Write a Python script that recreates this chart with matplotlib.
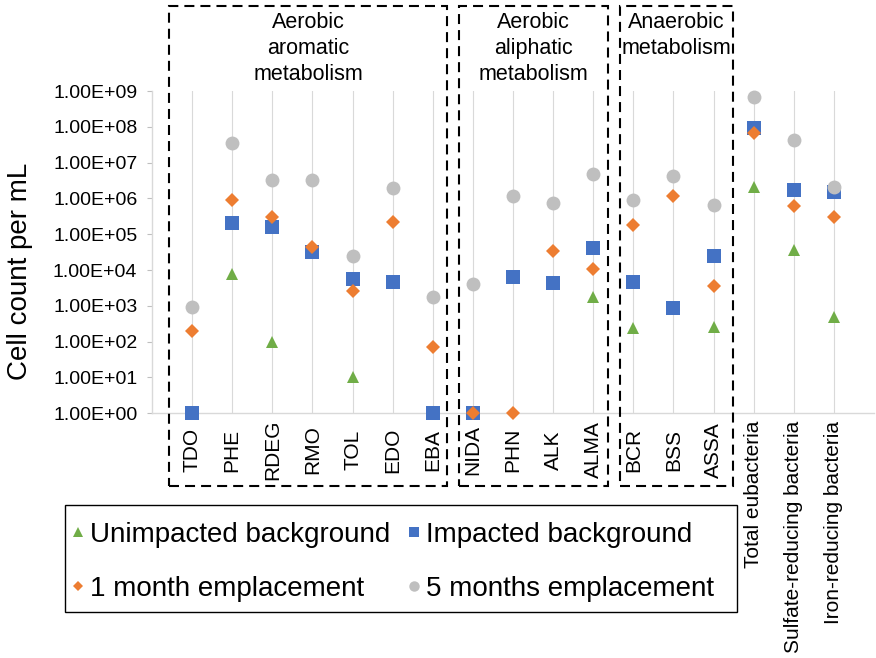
import numpy as np
import matplotlib
matplotlib.use("Agg")
import matplotlib.pyplot as plt
from matplotlib.patches import Rectangle
from matplotlib.ticker import FixedLocator, FuncFormatter, NullLocator
from matplotlib.transforms import blended_transform_factory

plt.rcParams["font.family"] = ["Liberation Sans", "DejaVu Sans"]

nan = np.nan

categories = ["TDO", "PHE", "RDEG", "RMO", "TOL", "EDO", "EBA",
              "NIDA", "PHN", "ALK", "ALMA",
              "BCR", "BSS", "ASSA",
              "Total eubacteria", "Sulfate-reducing bacteria", "Iron-reducing bacteria"]

unimpacted = [nan, 8.0e3, 95, nan, 10, nan, nan,
              nan, nan, nan, 1.8e3,
              240, nan, 250,
              2.1e6, 3.6e4, 480]
impacted = [1, 2.0e5, 1.6e5, 3.1e4, 5.6e3, 4.6e3, 1,
            1, 6.6e3, 4.3e3, 4.1e4,
            4.7e3, 860, 2.5e4,
            9.5e7, 1.7e6, 1.55e6]
one_month = [200, 9.0e5, 3.1e5, 4.5e4, 2.6e3, 2.2e5, 73,
             1, 1, 3.5e4, 1.1e4,
             1.8e5, 1.2e6, 3.7e3,
             6.6e7, 6.2e5, 3.1e5]
five_months = [950, 3.6e7, 3.3e6, 3.3e6, 2.5e4, 2.0e6, 1.8e3,
               4.1e3, 1.2e6, 7.6e5, 4.8e6,
               9.1e5, 4.1e6, 6.6e5,
               6.7e8, 4.3e7, 2.1e6]

series_labels = ["Unimpacted background", "Impacted background",
                 "1 month emplacement", "5 months emplacement"]

group_titles = ["Aerobic\naromatic\nmetabolism",
                "Aerobic\naliphatic\nmetabolism",
                "Anaerobic\nmetabolism"]

y_ticks = [1e0, 1e1, 1e2, 1e3, 1e4, 1e5, 1e6, 1e7, 1e8, 1e9]

W, H = 876, 658
fig = plt.figure(figsize=(W / 100, H / 100), dpi=100)


def fx(px):
    return px / W


def fy(py):
    return 1 - py / H


ax = fig.add_axes([fx(152), fy(413.3), fx(874) - fx(152), fy(91) - fy(413.3)])

x = np.arange(1, len(categories) + 1)

styles = [
    dict(marker="^", color="#70AD47", ms=9),
    dict(marker="s", color="#4472C4", ms=9.4),
    dict(marker="D", color="#ED7D31", ms=7.0),
    dict(marker="o", color="#BFBFBF", ms=10),
]
handles = []
for vals, st, lab in zip([unimpacted, impacted, one_month, five_months], styles, series_labels):
    h, = ax.plot(x, vals, linestyle="none", marker=st["marker"], color=st["color"],
                 markersize=st["ms"], markeredgewidth=0, clip_on=False, zorder=3,
                 label=lab)
    handles.append(h)

ax.set_yscale("log")
ax.set_ylim(1, 1e9)
ax.set_xlim(0, len(categories) + 1)
ax.yaxis.set_major_locator(FixedLocator(y_ticks))
ax.yaxis.set_minor_locator(NullLocator())
ax.yaxis.set_major_formatter(FuncFormatter(lambda v, p: f"{v:.2E}"))
ax.set_xticks(x)
ax.set_xticklabels([])
ax.tick_params(axis="x", length=0)
ax.tick_params(axis="y", length=3.6, width=0.8, color="#BFBFBF", pad=7,
               labelsize=14, labelcolor="black")
ax.grid(axis="x", color="#D9D9D9", linewidth=0.8, zorder=0)
ax.set_axisbelow(True)
for side in ["top", "right"]:
    ax.spines[side].set_visible(False)
for side in ["left", "bottom"]:
    ax.spines[side].set_color("#D9D9D9")
    ax.spines[side].set_linewidth(1.0)

# category labels below the axis
lab_tr = blended_transform_factory(ax.transData, fig.transFigure)
for xi, name in zip(x, categories):
    if len(name) > 5:
        ax.text(xi, fy(421), name, rotation=90, ha="center", va="top",
                fontsize=15, transform=lab_tr, clip_on=False)
    else:
        ax.text(xi, fy(450), name, rotation=90, ha="center", va="center",
                fontsize=15, transform=lab_tr, clip_on=False)

fig.text(fx(20), fy(271), "Cell count per mL", rotation=90, ha="center",
         va="center", fontsize=20)

# dashed group boxes with titles
boxes = [(169, 447), (459, 608), (620, 733)]
for (x0, x1), title in zip(boxes, group_titles):
    fig.patches.append(Rectangle((fx(x0), fy(486)), fx(x1) - fx(x0), fy(6) - fy(486),
                                 transform=fig.transFigure, fill=False,
                                 edgecolor="black", linewidth=1.5,
                                 linestyle=(0, (4.8, 2.9))))
    fig.text(fx((x0 + x1) / 2), fy(12), title, ha="center", va="top",
             fontsize=15.5, linespacing=1.32)

# legend with a plain rectangular frame
fig.patches.append(Rectangle((fx(65), fy(612)), fx(737) - fx(65), fy(505) - fy(612),
                             transform=fig.transFigure, fill=False,
                             edgecolor="black", linewidth=1.0))
order = [0, 2, 1, 3]
leg = fig.legend([handles[i] for i in order], [series_labels[i] for i in order],
                 ncol=2, loc="upper left", bbox_to_anchor=(fx(72), fy(522)),
                 frameon=False, fontsize=20, markerscale=0.75,
                 handlelength=0.45, handletextpad=0.2, columnspacing=0.62,
                 labelspacing=1.0, borderpad=0, borderaxespad=0)

fig.savefig("out.png", dpi=100)
